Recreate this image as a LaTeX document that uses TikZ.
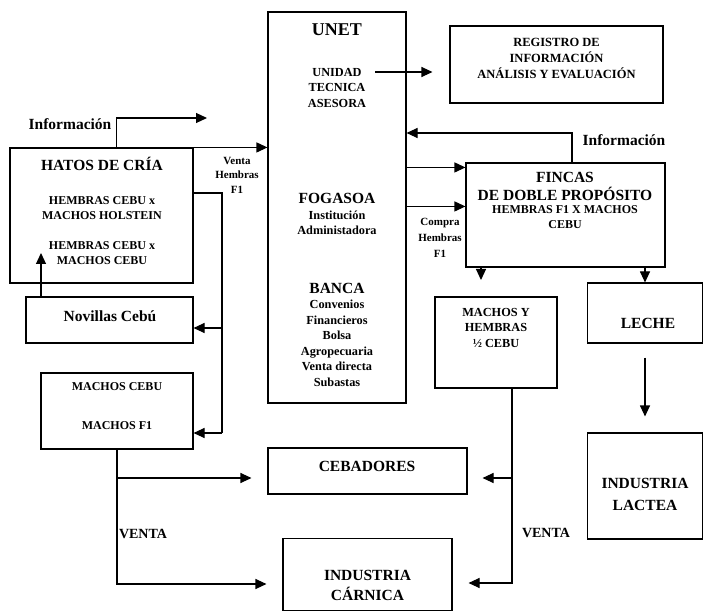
\documentclass[tikz,border=0pt]{standalone}
\usepackage{fontspec}
\setmainfont{Liberation Serif}
\usetikzlibrary{arrows.meta}

\begin{document}
\begin{tikzpicture}[x=1pt, y=-1pt,
        kasten/.style={draw, line width=1.1pt, inner sep=0pt},
        linie/.style={line width=1.1pt},
        pfeil/.style={line width=1.1pt, -{Triangle[length=11pt,width=10pt]}},
        gross/.style={font=\bfseries\fontsize{15.5}{19}\selectfont, align=center},
        mittel/.style={font=\bfseries\fontsize{12.3}{15.5}\selectfont, align=center},
        klein/.style={font=\bfseries\fontsize{12}{15}\selectfont, align=center}]
        \path[fill=white] (0,0) rectangle (704,612);
        \useasboundingbox (0,0) rectangle (704,612);

        % Kaesten
        \node[kasten, minimum width=183pt, minimum height=135pt] (hatos) at (101.5,215.5) {};
        \node[kasten, minimum width=167pt, minimum height=46pt] (novillas) at (109.5,320) {};
        \node[kasten, minimum width=152pt, minimum height=76pt] (machos) at (117,411) {};
        \node[kasten, minimum width=138pt, minimum height=391pt] (unet) at (337,207.5) {};
        \node[kasten, minimum width=213pt, minimum height=77pt] (registro) at (556.5,64.5) {};
        \node[kasten, minimum width=199pt, minimum height=104pt] (fincas) at (565.5,215) {};
        \node[kasten, minimum width=122pt, minimum height=91pt] (mhembras) at (496,342.5) {};
        \node[kasten, minimum width=115pt, minimum height=60pt] (leche) at (645,313) {};
        \node[kasten, minimum width=115pt, minimum height=106pt] (lactea) at (645,486) {};
        \node[kasten, minimum width=199pt, minimum height=46pt] (cebadores) at (367.5,471) {};
        \node[kasten, minimum width=169pt, minimum height=72pt] (carnica) at (367.5,574.5) {};

        % Texte in den Kaesten
        \node[gross] (thatos) at (102,164) {HATOS DE CRÍA};
        \node[klein] (thol) at (102,208) {HEMBRAS CEBU x\\MACHOS HOLSTEIN};
        \node[klein] (tceb) at (102,253) {HEMBRAS CEBU x\\MACHOS CEBU};
        \node[gross] (tnov) at (110,316) {Novillas Cebú};
        \node[klein] (tmc) at (117,387) {MACHOS CEBU};
        \node[klein] (tmf) at (117,426) {MACHOS F1};
        \node[font=\bfseries\fontsize{18}{22}\selectfont] (tunet) at (337,30) {UNET};
        \node[mittel] (tunidad) at (337,88) {UNIDAD\\TECNICA\\ASESORA};
        \node[gross] (tfog) at (337,198) {FOGASOA};
        \node[mittel] (tinst) at (337,223) {Institución\\Administadora};
        \node[gross] (tbanca) at (337,288) {BANCA};
        \node[mittel] (tconv) at (337,343.5) {Convenios\\Financieros\\Bolsa\\Agropecuaria\\Venta directa\\Subastas};
        \node[mittel, font=\bfseries\fontsize{12.5}{16}\selectfont] (treg) at (556.5,58) {REGISTRO DE\\INFORMACIÓN\\ANÁLISIS Y EVALUACIÓN};
        \node[gross, font=\bfseries\fontsize{15.5}{18}\selectfont] (tfincas) at (565,186) {FINCAS\\DE DOBLE PROPÓSITO};
        \node[klein] (tfx) at (565,217.5) {HEMBRAS F1 X MACHOS\\CEBU};
        \node[mittel] (tmh) at (496,327.5) {MACHOS Y\\HEMBRAS\\½ CEBU};
        \node[gross] (tleche) at (648,323) {LECHE};
        \node[gross, font=\bfseries\fontsize{15.5}{22}\selectfont] (tlactea) at (645,494) {INDUSTRIA\\LACTEA};
        \node[gross] (tceba) at (367,466) {CEBADORES};
        \node[gross, font=\bfseries\fontsize{15.5}{20}\selectfont] (tcarn) at (367.5,585) {INDUSTRIA\\CÁRNICA};

        % Beschriftungen der Pfeile
        \node[gross] (linfo1) at (70,124) {Información};
        \node[gross] (linfo2) at (624,140) {Información};
        \node[klein, font=\bfseries\fontsize{11}{14.5}\selectfont] (lventa) at (237,175) {Venta\\Hembras\\F1};
        \node[klein, font=\bfseries\fontsize{11}{16}\selectfont] (lcompra) at (440,238) {Compra\\Hembras\\F1};
        \node[font=\bfseries\fontsize{14}{16}\selectfont] (lventa1) at (143,534) {VENTA};
        \node[font=\bfseries\fontsize{14}{16}\selectfont] (lventa2) at (546,533) {VENTA};

        % Hilfspunkte
        \coordinate (kinfo) at (207,118);
        \coordinate (kv1) at (222,193);
        \coordinate (kv2) at (222,328);
        \coordinate (kv3) at (222,433);
        \coordinate (knov) at (41,253);
        \coordinate (kuni) at (375,72);
        \coordinate (kfin) at (572,133);
        \coordinate (kmh) at (481,280);
        \coordinate (kl1) at (117,478);
        \coordinate (kl2) at (117,584);
        \coordinate (kr1) at (512,478);
        \coordinate (kr2) at (512,583);

        % Pfeile links
        \draw[pfeil] ([xshift=107pt]hatos.north west) |- (kinfo);
        \draw[pfeil] (hatos.north east) -- (unet.west |- hatos.north east);
        \draw[linie] (hatos.east |- kv1) -| (kv3);
        \draw[pfeil] (kv2) -- (novillas.east |- kv2);
        \draw[pfeil] (kv3) -- (machos.east |- kv3);
        \draw[pfeil] (novillas.north -| knov) -- (knov);

        % Pfeile rechts
        \draw[pfeil, shorten >=17pt] (kuni) -- (registro.west |- kuni);
        \draw[pfeil] (fincas.north -| kfin) |- (unet.east |- kfin);
        \foreach \d in {5,44} {
            \draw[pfeil] ([yshift=-\d pt]unet.east |- fincas.north) -- ([yshift=-\d pt]fincas.north west);
        }
        \draw[pfeil] (fincas.south -| kmh) -- (kmh);
        \draw[pfeil] (fincas.south -| leche.north) -- (leche.north);
        \draw[pfeil, shorten <=14pt, shorten >=16pt] (leche.south) -- (lactea.north);

        % Verkauf
        \draw[pfeil, shorten >=16pt] (machos.south) |- (carnica.west |- kl2);
        \draw[pfeil, shorten >=16pt] (kl1) -- (cebadores.west |- kl1);
        \draw[pfeil, shorten >=16pt] (mhembras.south -| kr1) |- (carnica.east |- kr2);
        \draw[pfeil, shorten >=15pt] (kr1) -- (cebadores.east |- kr1);

    \end{tikzpicture}
\end{document}
